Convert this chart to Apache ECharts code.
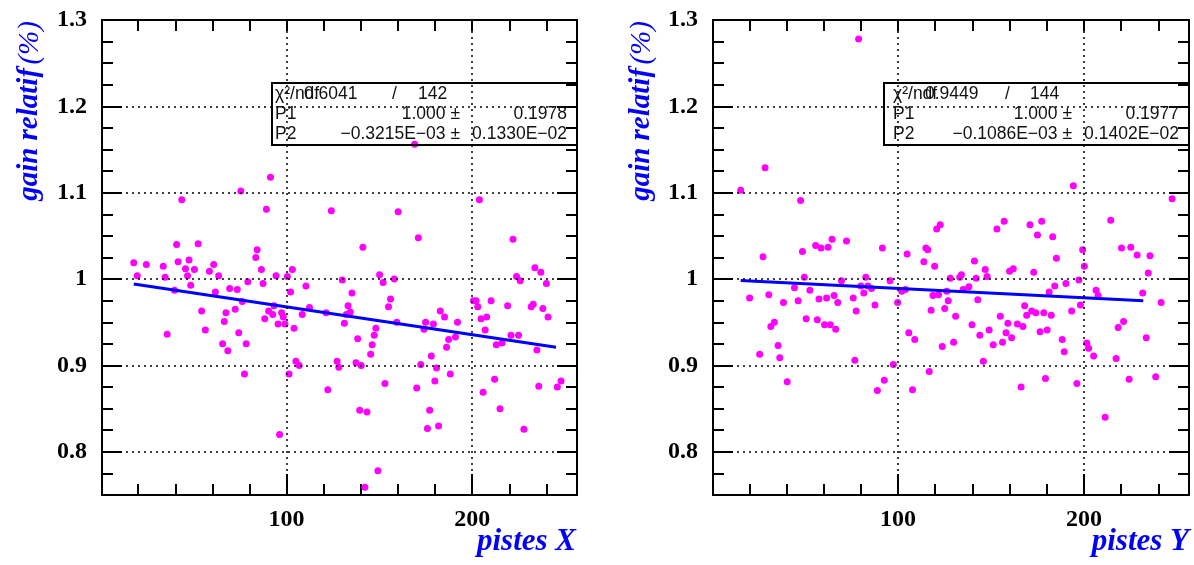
<!DOCTYPE html>
<html>
<head>
<meta charset="utf-8">
<script src="https://cdn.jsdelivr.net/npm/echarts@6/dist/echarts.min.js"></script>
<style>
html,body{margin:0;padding:0;background:#fff;}
#chart{width:1194px;height:565px;}
</style>
</head>
<body>
<div id="chart"></div>
<script>
// ---- data: left panel (pistes X) ----
const leftX = [43.5,75.3,91.3,89.1,40.7,52.3,84.1,
169.0,124.1,160.1,203.9,141.1,171.0,222.0,
17.6,19.5,24.4,33.5,34.5,41.5,45.5,47.4,46.6,50.3,39.6,48.3,35.6,54.2,56.2,58.4,60.7,63.4,61.6,69.3,73.4,76.1,67.3,66.4,72.3,74.2,65.5,68.3,78.2,77.3,79.1,83.4,86.4,87.3,88.2,90.3,92.5,93.2,95.4,94.3,97.3,98.2,99.1,100.4,103.1,102.1,104.0,105.0,106.8,101.3,96.2,
110.4,112.3,108.4,121.3,122.2,127.2,128.1,130.0,131.1,132.2,133.1,134.3,135.2,137.4,140.2,138.3,139.4,143.3,145.3,146.1,147.2,148.1,150.1,152.0,153.0,149.2,142.2,154.9,156.0,158.0,159.4,170.1,172.3,174.0,174.9,177.1,175.9,178.0,179.1,179.9,180.8,181.9,182.8,185.1,186.2,187.3,188.2,191.0,192.1,200.7,202.1,203.0,204.8,207.0,207.8,210.2,205.9,212.1,213.0,215.0,216.1,219.1,220.9,225.0,223.9,225.9,227.9,231.8,232.9,234.9,235.9,233.8,237.0,238.1,240.0,240.9,245.9,247.9];
const leftY = [1.092,1.102,1.118,1.081,1.040,1.041,1.034,
1.156,1.079,1.078,1.092,1.037,1.048,1.046,
1.019,1.004,1.017,1.015,1.002,1.020,1.012,1.022,1.004,1.011,0.987,0.993,0.936,0.963,0.941,1.009,1.017,1.004,0.985,0.989,0.988,0.974,0.961,0.951,0.965,0.938,0.925,0.917,0.925,0.890,0.997,1.025,1.011,0.995,0.954,0.963,0.959,0.969,0.948,1.004,0.961,0.956,0.948,1.003,1.011,0.985,0.943,0.905,0.900,0.890,0.820,
0.992,0.967,0.959,0.961,0.872,0.905,0.898,0.999,0.949,0.959,0.969,0.962,0.984,0.903,0.900,0.931,0.848,0.846,0.913,0.924,0.935,0.943,1.005,0.996,0.879,0.778,0.759,0.968,0.977,1.000,0.950,0.874,0.901,0.942,0.950,0.848,0.827,0.911,0.948,0.882,0.897,0.830,0.963,0.956,0.921,0.930,0.890,0.933,0.950,0.975,0.975,0.968,0.954,0.941,0.956,0.975,0.869,0.884,0.924,0.850,0.926,0.969,0.935,0.935,1.003,0.998,0.826,0.968,0.971,0.918,0.876,1.013,1.008,0.966,0.995,0.956,0.875,0.882];
const leftFitX = [17.6, 245.2];
const leftFitY = [0.9943, 0.9212];

// ---- data: right panel (pistes Y) ----
const rightX = [78.8,28.5,15.4,47.6,64.5,72.3,55.7,58.6,62.4,91.6,
194.3,247.4,120.8,122.7,153.2,157.1,171.0,177.3,175.0,183.2,214.4,220.2,225.2,199.3,115.0,
27.4,48.6,104.9,20.2,30.5,38.4,44.3,46.3,49.6,52.6,50.6,56.6,57.5,61.6,60.5,63.6,65.6,66.5,67.6,69.6,31.6,33.5,35.5,25.6,36.4,40.4,75.9,77.5,76.8,80.0,82.7,83.8,81.6,85.8,87.6,95.7,99.8,102.0,104.0,105.8,109.0,97.5,92.6,88.9,107.8,
116.0,113.9,119.7,118.8,121.8,117.8,116.8,123.8,125.1,126.2,127.0,128.1,129.9,131.0,133.2,134.1,135.0,138.1,139.8,141.1,142.0,142.9,144.0,145.9,146.9,147.9,149.0,151.2,155.0,156.2,158.1,159.1,161.1,160.0,162.0,164.2,167.2,166.2,168.1,169.2,171.9,174.1,173.0,176.4,178.4,180.2,179.3,181.3,182.4,184.3,185.2,188.3,189.4,190.3,193.4,196.2,197.3,198.1,200.2,201.5,202.5,205.2,206.5,207.6,211.4,217.3,218.4,221.3,224.3,228.6,231.6,233.5,234.6,235.5,238.6,241.5];
const rightY = [1.278,1.129,1.103,1.091,1.046,1.044,1.039,1.036,1.037,1.036,
1.108,1.093,1.058,1.063,1.058,1.067,1.063,1.067,1.051,1.049,1.068,1.036,1.037,1.034,1.036,
1.026,1.032,1.029,0.978,0.982,0.973,0.990,0.975,1.002,0.987,0.954,0.953,0.977,0.978,0.947,0.947,0.981,0.942,0.973,0.998,0.945,0.950,0.923,0.913,0.909,0.881,0.978,0.963,0.906,0.992,1.002,0.992,0.984,0.989,0.970,0.998,0.973,0.986,0.988,0.938,0.930,0.901,0.883,0.871,0.872,
1.034,1.020,1.015,0.981,0.982,0.964,0.893,0.922,0.966,0.986,0.975,1.001,0.927,0.957,1.002,1.005,0.988,0.991,0.947,1.021,1.001,0.976,0.935,0.905,1.011,1.003,0.941,0.924,0.957,0.927,0.938,0.949,0.932,1.009,1.012,0.948,0.945,0.875,0.969,0.958,0.963,0.961,1.008,0.939,0.961,0.941,0.885,0.985,0.958,0.992,1.024,0.930,0.916,0.995,0.963,0.879,0.999,0.970,1.015,0.926,0.920,0.911,0.987,0.981,0.840,0.908,0.944,0.951,0.884,1.028,0.984,0.932,1.007,1.027,0.887,0.973];
const rightFitX = [15.4, 231.9];
const rightFitY = [0.9983, 0.9748];

// ---- axes / ticks ----
const xRange = [0.5, 256.5];
const yRange = [0.75, 1.3];
const xTicks = [20,40,60,80,100,120,140,160,180,200,220,240];
const xMajorTicks = [100,200];
const xTickLabels = [100,200];
const yTicks = [0.775,0.8,0.825,0.85,0.875,0.9,0.925,0.95,0.975,1.0,1.025,1.05,1.075,1.1,1.125,1.15,1.175,1.2,1.225,1.25,1.275];
const yMajorTicks = [0.8,0.9,1.0,1.1,1.2];
const yTickLabels = [0.8,0.9,1,1.1,1.2,1.3];

// ---- fit statistics text ----
const stats = [
  {chi: '0.6041', ndf: '142', p1: '1.000 \u00b1', p1e: '0.1978', p2: '\u22120.3215E\u221203 \u00b1', p2e: '0.1330E\u221202'},
  {chi: '0.9449', ndf: '144', p1: '1.000 \u00b1', p1e: '0.1977', p2: '\u22120.1086E\u221203 \u00b1', p2e: '0.1402E\u221202'}
];
const xTitles = ['pistes X', 'pistes Y'];
const yTitle = 'gain relatif';

const chart = echarts.init(document.getElementById('chart'));

const grids = [
  {left: 102, top: 20, width: 475, height: 475},
  {left: 713, top: 20, width: 476, height: 475}
];
const labelFont = {fontFamily: 'Liberation Serif', fontWeight: 'bold', fontSize: 24, color: '#000'};
const frameLine = {show: true, lineStyle: {color: '#000', width: 2}};
const tickStyle = {color: '#000', width: 2};

const xAxes = [], yAxes = [];
grids.forEach((g, gi) => {
  xAxes.push({type: 'value', gridIndex: gi, min: xRange[0], max: xRange[1], position: 'bottom',
    axisLine: frameLine, splitLine: {show: false},
    axisTick: {show: true, inside: true, length: 11, customValues: xTicks, lineStyle: tickStyle},
    axisLabel: Object.assign({show: true, customValues: xTickLabels, margin: 13}, labelFont)});
  xAxes.push({type: 'value', gridIndex: gi, min: xRange[0], max: xRange[1], position: 'top',
    axisLine: frameLine, splitLine: {show: false},
    axisTick: {show: true, inside: true, length: 11, customValues: xTicks, lineStyle: tickStyle},
    axisLabel: {show: false}});
  yAxes.push({type: 'value', gridIndex: gi, min: yRange[0], max: yRange[1], position: 'left',
    axisLine: frameLine, splitLine: {show: false},
    axisTick: {show: true, inside: true, length: 11, customValues: yTicks, lineStyle: tickStyle},
    axisLabel: Object.assign({show: true, customValues: yTickLabels, margin: 15}, labelFont)});
  yAxes.push({type: 'value', gridIndex: gi, min: yRange[0], max: yRange[1], position: 'right',
    axisLine: frameLine, splitLine: {show: false},
    axisTick: {show: true, inside: true, length: 11, customValues: yTicks, lineStyle: tickStyle},
    axisLabel: {show: false}});
});

function zip(a, b) { return a.map((v, i) => [v, b[i]]); }

const gridLines = yMajorTicks.map(v => ({yAxis: v})).concat(xMajorTicks.map(v => ({xAxis: v})));

// longer ticks at the major values (bottom x: 21px, y: 20px), as segments in data space
function majorTickSegments(g) {
  const ux = (xRange[1] - xRange[0]) / g.width;
  const uy = (yRange[1] - yRange[0]) / g.height;
  const segs = [];
  xMajorTicks.forEach(v => segs.push([{coord: [v, yRange[0]]}, {coord: [v, yRange[0] + 21 * uy]}]));
  yMajorTicks.forEach(v => {
    segs.push([{coord: [xRange[0], v]}, {coord: [xRange[0] + 20 * ux, v]}]);
    segs.push([{coord: [xRange[1], v]}, {coord: [xRange[1] - 20 * ux, v]}]);
  });
  return segs;
}

const panels = [
  {x: leftX, y: leftY, fx: leftFitX, fy: leftFitY},
  {x: rightX, y: rightY, fx: rightFitX, fy: rightFitY}
];
const series = [];
panels.forEach((p, gi) => {
  series.push({
    type: 'scatter', xAxisIndex: gi * 2, yAxisIndex: gi * 2,
    data: zip(p.x, p.y), symbolSize: 7,
    itemStyle: {color: '#ff00ff', opacity: 1}, z: 3,
    markLine: {silent: true, symbol: ['none', 'none'], label: {show: false},
      lineStyle: {type: [2, 4], color: '#000', width: 1.5},
      data: gridLines}
  });
  series.push({
    type: 'line', xAxisIndex: gi * 2, yAxisIndex: gi * 2,
    data: zip(p.fx, p.fy), showSymbol: false, symbol: 'none',
    lineStyle: {color: '#0000ff', width: 3}, z: 4,
    markLine: {silent: true, symbol: ['none', 'none'], label: {show: false},
      lineStyle: {type: 'solid', color: '#000', width: 2},
      data: majorTickSegments(grids[gi])}
  });
});

// annotations
const graphics = [];
const boxDefs = [
  {bx: 272, bw: 305, tx: 275, chiX: 304, slashX: 392, ndfX: 418, col1R: 460, col2R: 567},
  {bx: 884, bw: 305, tx: 893, chiX: 925, slashX: 1005, ndfX: 1030, col1R: 1072, col2R: 1179}
];
const statFont = 'normal 17.5px "Liberation Sans"';
boxDefs.forEach((b, i) => {
  const s = stats[i];
  graphics.push({type: 'rect', shape: {x: b.bx, y: 83, width: b.bw, height: 62},
    style: {fill: 'none', stroke: '#000', lineWidth: 2}, z: 10});
  const t = (x, y, text, align) => graphics.push({type: 'text', x: x, y: y, z: 11,
    style: {text: text, font: statFont, fill: '#111', align: align || 'left', verticalAlign: 'bottom'}});
  t(b.tx, 103, '\u03c7\u00b2/ndf');
  t(b.chiX, 103, s.chi);
  t(b.slashX, 103, '/');
  t(b.ndfX, 103, s.ndf);
  t(b.tx, 123, 'P1');
  t(b.col1R, 123, s.p1, 'right');
  t(b.col2R, 123, s.p1e, 'right');
  t(b.tx, 143, 'P2');
  t(b.col1R, 143, s.p2, 'right');
  t(b.col2R, 143, s.p2e, 'right');
});
[30, 642].forEach(cx => {
  graphics.push({type: 'text', x: cx, y: 111, rotation: Math.PI / 2, z: 11,
    style: {text: '{a|' + yTitle + '} {b|(%)}', align: 'center', verticalAlign: 'middle',
      rich: {
        a: {fontFamily: 'Liberation Serif', fontStyle: 'italic', fontWeight: 'bold', fontSize: 29, fill: '#0000ff', color: '#0000ff'},
        b: {fontFamily: 'Liberation Serif', fontStyle: 'italic', fontWeight: 'normal', fontSize: 29, fill: '#0000ff', color: '#0000ff'}
      }}});
});
[[576, xTitles[0]], [1189, xTitles[1]]].forEach(([rx, txt]) => {
  graphics.push({type: 'text', x: rx, y: 557, z: 11,
    style: {text: txt, font: 'italic bold 31px "Liberation Serif"', fill: '#0000ff', align: 'right', verticalAlign: 'bottom'}});
});

chart.setOption({
  animation: false,
  backgroundColor: '#fff',
  grid: grids.map(g => Object.assign({show: false}, g)),
  xAxis: xAxes,
  yAxis: yAxes,
  series: series,
  graphic: graphics
});
</script>
</body>
</html>
